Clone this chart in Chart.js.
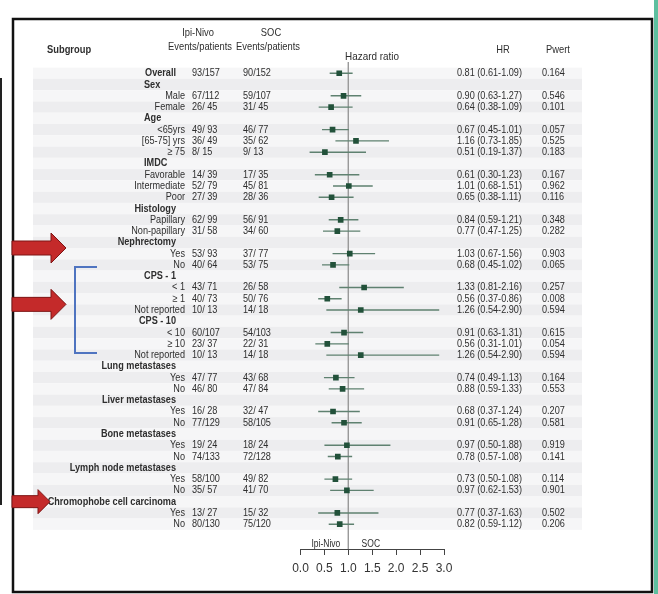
<!DOCTYPE html>
<html><head><meta charset="utf-8">
<script src="https://cdn.jsdelivr.net/npm/chart.js@4/dist/chart.umd.min.js"></script>
<style>html,body{margin:0;padding:0;background:#fff;}#wrap{width:658px;height:594px;position:relative;}</style>
</head><body><div id="wrap"><canvas id="c"></canvas></div>
<script>
// ---- data ----
const subgroups = ['Overall','Sex','Male','Female','Age','<65yrs','[65-75] yrs','\u2265 75','IMDC','Favorable','Intermediate','Poor','Histology','Papillary','Non-papillary','Nephrectomy','Yes','No','CPS - 1','< 1','\u2265 1','Not reported','CPS - 10','< 10','\u2265 10','Not reported','Lung metastases','Yes','No','Liver metastases','Yes','No','Bone metastases','Yes','No','Lymph node metastases','Yes','No','Chromophobe cell carcinoma','Yes','No'];
const headerRows = [0,1,4,8,12,15,18,22,26,29,32,35,38];
const ipiNivo = ['93/157','','67/112','26/ 45','','49/ 93','36/ 49','8/ 15','','14/ 39','52/ 79','27/ 39','','62/ 99','31/ 58','','53/ 93','40/ 64','','43/ 71','40/ 73','10/ 13','','60/107','23/ 37','10/ 13','','47/ 77','46/ 80','','16/ 28','77/129','','19/ 24','74/133','','58/100','35/ 57','','13/ 27','80/130'];
const soc = ['90/152','','59/107','31/ 45','','46/ 77','35/ 62','9/ 13','','17/ 35','45/ 81','28/ 36','','56/ 91','34/ 60','','37/ 77','53/ 75','','26/ 58','50/ 76','14/ 18','','54/103','22/ 31','14/ 18','','43/ 68','47/ 84','','32/ 47','58/105','','18/ 24','72/128','','49/ 82','41/ 70','','15/ 32','75/120'];
const hr = [0.81,null,0.90,0.64,null,0.67,1.16,0.51,null,0.61,1.01,0.65,null,0.84,0.77,null,1.03,0.68,null,1.33,0.56,1.26,null,0.91,0.56,1.26,null,0.74,0.88,null,0.68,0.91,null,0.97,0.78,null,0.73,0.97,null,0.77,0.82];
const ciLow = [0.61,null,0.63,0.38,null,0.45,0.73,0.19,null,0.30,0.68,0.38,null,0.59,0.47,null,0.67,0.45,null,0.81,0.37,0.54,null,0.63,0.31,0.54,null,0.49,0.59,null,0.37,0.65,null,0.50,0.57,null,0.50,0.62,null,0.37,0.59];
const ciHigh = [1.09,null,1.27,1.09,null,1.01,1.85,1.37,null,1.23,1.51,1.11,null,1.21,1.25,null,1.56,1.02,null,2.16,0.86,2.90,null,1.31,1.01,2.90,null,1.13,1.33,null,1.24,1.28,null,1.88,1.08,null,1.08,1.53,null,1.63,1.12];
const pValues = ['0.164','','0.546','0.101','','0.057','0.525','0.183','','0.167','0.962','0.116','','0.348','0.282','','0.903','0.065','','0.257','0.008','0.594','','0.615','0.054','0.594','','0.164','0.553','','0.207','0.581','','0.919','0.141','','0.114','0.901','','0.502','0.206'];
const xTicks = [0,0.5,1,1.5,2,2.5,3];
const refValue = 1;

// ---- build datasets ----
const FONT = '"Liberation Sans", Arial, sans-serif';
const nRows = subgroups.length;
const ciPts = [];
const markPts = [];
subgroups.forEach((_, i) => {
  if (hr[i] != null) {
    ciPts.push({x: ciLow[i], y: i}, {x: ciHigh[i], y: i}, {x: NaN, y: NaN});
    markPts.push({x: hr[i], y: i});
  }
});

function txt(ctx, s, x, y, align, bold, size, sx, color) {
  ctx.save();
  ctx.translate(x, y);
  ctx.scale(sx, 1);
  ctx.font = (bold ? 'bold ' : '') + size + 'px ' + FONT;
  ctx.textAlign = align;
  ctx.textBaseline = 'middle';
  ctx.fillStyle = color;
  ctx.fillText(s, 0, 0);
  ctx.restore();
}
function arrow(ctx, x0, headX, tipX, cy, sh, hh) {
  ctx.save();
  ctx.beginPath();
  ctx.moveTo(x0, cy - sh);
  ctx.lineTo(headX, cy - sh);
  ctx.lineTo(headX, cy - hh);
  ctx.lineTo(tipX, cy);
  ctx.lineTo(headX, cy + hh);
  ctx.lineTo(headX, cy + sh);
  ctx.lineTo(x0, cy + sh);
  ctx.closePath();
  ctx.fillStyle = '#c42a2a';
  ctx.fill();
  ctx.strokeStyle = '#7e1414';
  ctx.lineWidth = 1;
  ctx.stroke();
  ctx.restore();
}

const decor = {
  id: 'decor',
  beforeDraw(chart) {
    const ctx = chart.ctx;
    const ys = chart.scales.y;
    ctx.save();
    ctx.fillStyle = '#fff';
    ctx.fillRect(0, 0, chart.width, chart.height);
    for (let i = 0; i < nRows; i++) {
      const y = ys.getPixelForValue(i);
      const h = ys.getPixelForValue(i + 1) - y;
      ctx.fillStyle = (i % 2 === 1) ? '#ededef' : '#f6f6f7';
      ctx.fillRect(33, y - h / 2, 549, h);
    }
    ctx.restore();
  },
  afterDraw(chart) {
    const ctx = chart.ctx;
    const ys = chart.scales.y;
    const xs = chart.scales.x;
    const col = '#2e2e2e';
    // column headers
    txt(ctx, 'Subgroup', 47, 50, 'left', true, 11, 0.85, col);
    txt(ctx, 'Ipi-Nivo', 198, 33, 'center', false, 11, 0.85, col);
    txt(ctx, 'SOC', 271, 33, 'center', false, 11, 0.85, col);
    txt(ctx, 'Events/patients', 200, 47, 'center', false, 11, 0.85, col);
    txt(ctx, 'Events/patients', 268, 47, 'center', false, 11, 0.85, col);
    txt(ctx, 'Hazard ratio', 372, 57, 'center', false, 11, 0.9, col);
    txt(ctx, 'HR', 503, 50, 'center', false, 11, 0.85, col);
    txt(ctx, 'Pwert', 558, 50, 'center', false, 11, 0.85, col);
    // rows
    for (let i = 0; i < nRows; i++) {
      const y = ys.getPixelForValue(i);
      const lab = subgroups[i];
      if (headerRows.includes(i)) {
        if (['Sex', 'Age', 'IMDC'].includes(lab)) txt(ctx, lab, 144, y, 'left', true, 11, 0.83, col);
        else txt(ctx, lab, 176, y, 'right', true, 11, 0.83, col);
      } else {
        txt(ctx, lab, 185, y, 'right', false, 11, 0.83, col);
      }
      if (ipiNivo[i]) txt(ctx, ipiNivo[i], 192, y, 'left', false, 11, 0.83, col);
      if (soc[i]) txt(ctx, soc[i], 243, y, 'left', false, 11, 0.83, col);
      if (hr[i] != null) {
        const s = hr[i].toFixed(2) + ' (' + ciLow[i].toFixed(2) + '-' + ciHigh[i].toFixed(2) + ')';
        txt(ctx, s, 457, y, 'left', false, 11, 0.83, col);
      }
      if (pValues[i]) txt(ctx, pValues[i], 542, y, 'left', false, 11, 0.83, col);
    }
    // axis direction labels
    const ay = chart.chartArea.bottom - 5;
    txt(ctx, 'Ipi-Nivo', xs.getPixelForValue(0.53), ay, 'center', false, 10, 0.85, col);
    txt(ctx, 'SOC', xs.getPixelForValue(1.47), ay, 'center', false, 10, 0.85, col);
    // frame
    ctx.save();
    ctx.strokeStyle = '#111';
    ctx.lineWidth = 2.5;
    ctx.strokeRect(13, 19, 639, 573);
    ctx.fillStyle = '#5dbf9f';
    ctx.fillRect(654, 0, 4, 594);
    ctx.fillStyle = '#222';
    ctx.fillRect(0, 78, 2, 427);
    // bracket
    ctx.strokeStyle = '#4f74c0';
    ctx.lineWidth = 2;
    const top = ys.getPixelForValue(17) + 2;
    const bot = ys.getPixelForValue(25) - 2;
    ctx.beginPath();
    ctx.moveTo(97, top); ctx.lineTo(75, top); ctx.lineTo(75, bot); ctx.lineTo(97, bot);
    ctx.stroke();
    ctx.restore();
    // arrows
    arrow(ctx, 12, 51, 66, (ys.getPixelForValue(15) + ys.getPixelForValue(16)) / 2, 7, 15);
    arrow(ctx, 12, 51, 66, (ys.getPixelForValue(20) + ys.getPixelForValue(21)) / 2, 7, 15);
    arrow(ctx, 12, 38, 50, ys.getPixelForValue(38), 6, 12);
  }
};

new Chart(document.getElementById('c'), {
  type: 'scatter',
  data: {
    datasets: [
      {type: 'line', data: [{x: refValue, y: -1}, {x: refValue, y: 42.2}], borderColor: '#9a9a9a', borderWidth: 1, pointRadius: 0, order: 3},
      {type: 'line', data: ciPts, borderColor: '#5f8170', borderWidth: 1.4, pointRadius: 0, spanGaps: false, order: 2},
      {type: 'scatter', data: markPts, pointStyle: 'rect', pointRadius: 4, backgroundColor: '#22513a', borderWidth: 0, order: 1}
    ]
  },
  options: {
    responsive: true,
    maintainAspectRatio: false,
    animation: false,
    devicePixelRatio: 1,
    events: [],
    layout: {padding: {left: 300.5, right: 214, top: 62, bottom: 12.6}},
    plugins: {legend: {display: false}, tooltip: {enabled: false}},
    scales: {
      x: {
        type: 'linear', min: 0, max: 3,
        afterBuildTicks: s => { s.ticks = xTicks.map(v => ({value: v})); },
        ticks: {callback: v => Number(v).toFixed(1), font: {family: FONT, size: 12}, color: '#333', padding: 6, maxRotation: 0, autoSkip: false},
        grid: {display: true, drawOnChartArea: false, drawTicks: true, tickLength: 6, color: '#444', lineWidth: 1},
        border: {display: true, color: '#444', width: 1}
      },
      y: {type: 'linear', reverse: true, min: -1, max: 42.2, display: false}
    }
  },
  plugins: [decor]
});
</script>
</body></html>
